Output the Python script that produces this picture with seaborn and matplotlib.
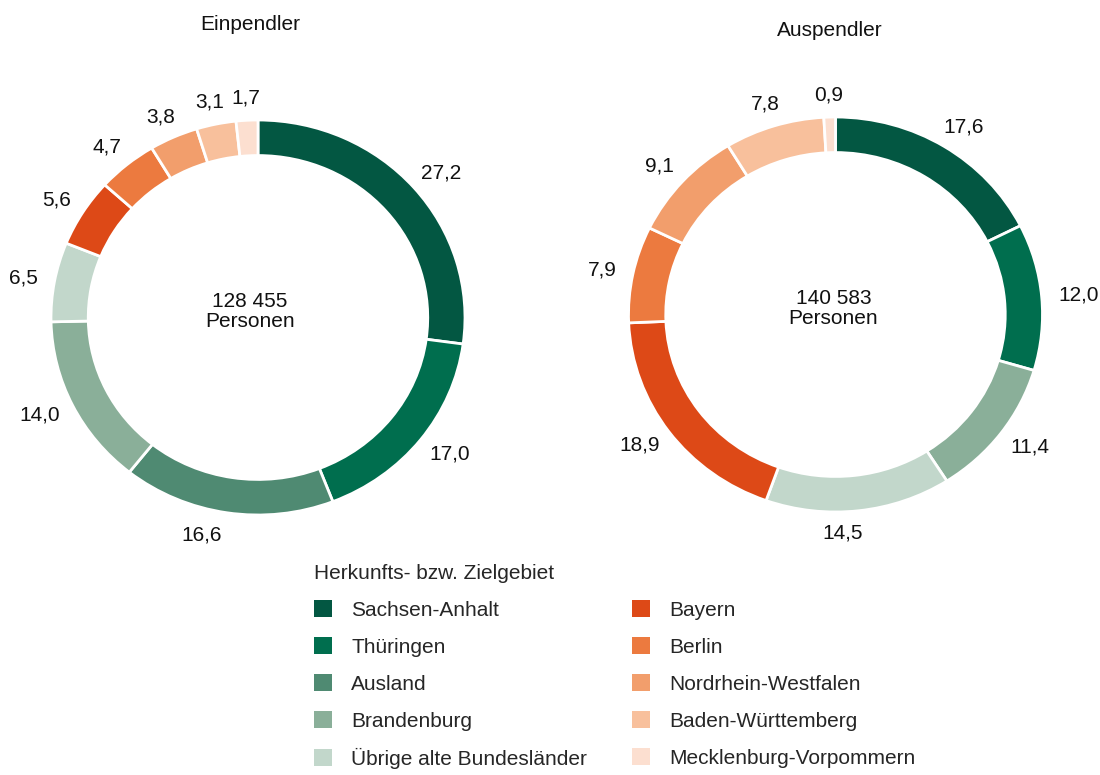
import matplotlib
matplotlib.use("Agg")
import numpy as np
import matplotlib.pyplot as plt
import seaborn as sns
from matplotlib.patches import Patch
from matplotlib.transforms import offset_copy

categories = ["Sachsen-Anhalt", "Thüringen", "Ausland", "Brandenburg",
              "Übrige alte Bundesländer", "Bayern", "Berlin",
              "Nordrhein-Westfalen", "Baden-Württemberg", "Mecklenburg-Vorpommern"]
einpendler = [27.2, 17.0, 16.6, 14.0, 6.5, 5.6, 4.7, 3.8, 3.1, 1.7]
auspendler = [17.6, 12.0, 0.0, 11.4, 14.5, 18.9, 7.9, 9.1, 7.8, 0.9]
colors = ["#035742", "#006e4e", "#4f8a72", "#8aaf99", "#c2d7cb",
          "#dd4917", "#ec7a3f", "#f29e6c", "#f8c09c", "#fcdfd0"]
titles = ["Einpendler", "Auspendler"]
totals = ["128 455\nPersonen", "140 583\nPersonen"]

sns.set_theme(style="white")
plt.rcParams["font.family"] = ["Liberation Sans", "DejaVu Sans"]
FS = 15

W, H = 1100, 775
fig = plt.figure(figsize=(W / 100, H / 100), dpi=100)
renderer = fig.canvas.get_renderer()

centers = [(258, 317.5), (835.5, 314.5)]
center_text_dx = [-8, -2]
rx, ry = 207, 197.5
lim = 1.2
title_pos = [(250, 24), (830, 31)]

def fmt(v):
    return f"{v:.1f}".replace(".", ",")

for i, vals in enumerate([einpendler, auspendler]):
    cx, cy = centers[i]
    w = 2 * lim * rx
    h = 2 * lim * ry
    ax = fig.add_axes([(cx - w / 2) / W, (H - cy - h / 2) / H, w / W, h / H])
    v = [x for x in vals if x > 0]
    c = [colors[k] for k, x in enumerate(vals) if x > 0]
    wedges = ax.pie(v, colors=c, startangle=90, counterclock=False,
                    radius=1.0, frame=True,
                    wedgeprops=dict(width=0.18, edgecolor="white", linewidth=2))[0]
    ax.set_aspect("auto")
    ax.set_xlim(-lim, lim)
    ax.set_ylim(-lim, lim)
    ax.axis("off")
    for wdg, val in zip(wedges, v):
        ang = np.deg2rad((wdg.theta1 + wdg.theta2) / 2)
        ca, sa = np.cos(ang), np.sin(ang)
        d = 1.08
        t = ax.text(d * ca, d * sa, fmt(val), ha="center", va="center",
                    fontsize=FS, color="#111111")
        ext = t.get_window_extent(renderer)
        tw, th = ext.width, ext.height
        dx = 0.5 * tw * ca
        if sa < -0.9:
            dx -= 0.5 * tw
        t.set_transform(offset_copy(ax.transData, fig=fig,
                                    x=dx, y=0.35 * th * sa, units="dots"))
    ax.text(center_text_dx[i] / rx, 0.03, totals[i], ha="center", va="center",
            fontsize=FS, color="#111111", linespacing=1.1)
    fig.text(title_pos[i][0] / W, 1 - title_pos[i][1] / H, titles[i],
             ha="center", va="center", fontsize=FS, color="#111111")

handles = [Patch(facecolor=col, edgecolor="none") for col in colors]
leg = fig.legend(handles, categories, loc="upper left",
                 bbox_to_anchor=(314 / W, 1 - 564 / H), ncol=2,
                 title="Herkunfts- bzw. Zielgebiet", title_fontsize=FS, fontsize=FS,
                 frameon=False, handlelength=0.87, handleheight=0.87,
                 handletextpad=0.91, columnspacing=2.16, labelspacing=0.83,
                 borderpad=0, borderaxespad=0, alignment="left")

fig.savefig("out.png", dpi=100, facecolor="white")
